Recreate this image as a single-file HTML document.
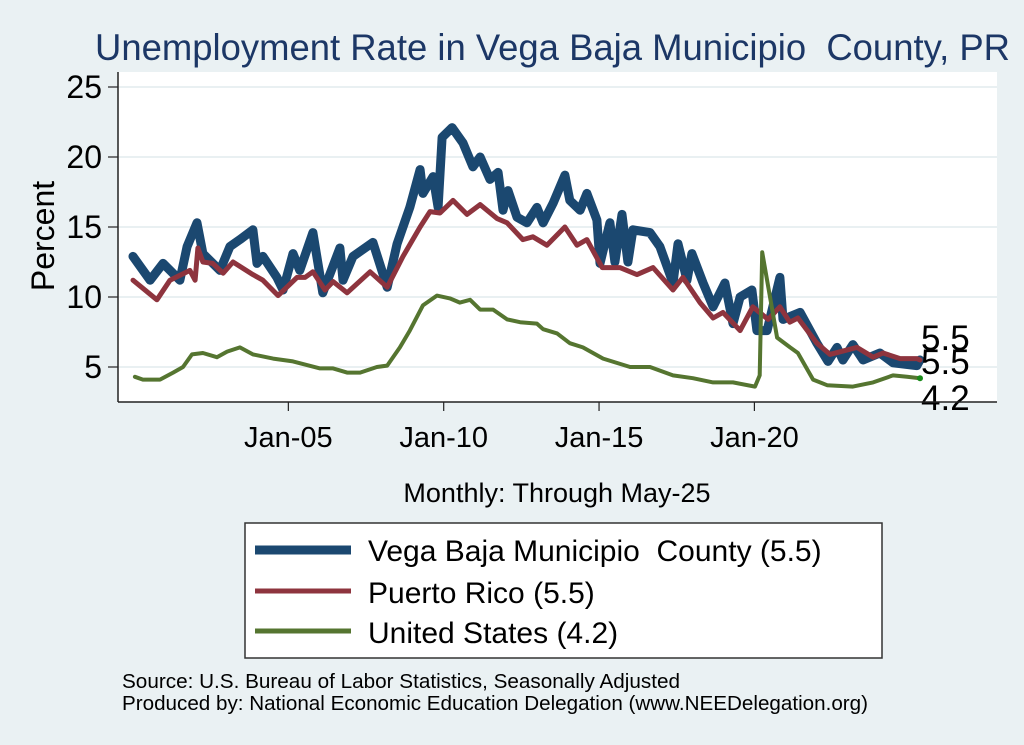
<!DOCTYPE html>
<html><head><meta charset="utf-8"><style>
body{margin:0;background:#eaf1f3;}
svg{display:block;font-family:"Liberation Sans",sans-serif;}
</style></head><body>
<svg id="chart" width="1024" height="745">
<rect width="1024" height="745" fill="#eaf1f3"/>
<text x="95" y="60" font-size="37" textLength="915" lengthAdjust="spacingAndGlyphs" fill="#1c3766">Unemployment Rate in Vega Baja Municipio&#160; County, PR</text>
<rect x="118" y="72" width="879" height="330" fill="#fff"/>
<g id="grid"></g>
<g id="series"></g>
<g id="axes"></g>
<text x="54" y="236" font-size="32" text-anchor="middle" transform="rotate(-90 54 236)">Percent</text>
<text x="557" y="502" font-size="27" text-anchor="middle">Monthly: Through May-25</text>
<g>
<rect x="245" y="523" width="637" height="135" fill="#fff" stroke="#333" stroke-width="1.5"/>
<line x1="255" y1="550" x2="351" y2="550" stroke="#1b4870" stroke-width="9"/>
<text x="368" y="561" font-size="30">Vega Baja Municipio&#160; County (5.5)</text>
<line x1="255" y1="591" x2="351" y2="591" stroke="#8e343e" stroke-width="5"/>
<text x="368" y="603" font-size="30">Puerto Rico (5.5)</text>
<line x1="255" y1="631" x2="351" y2="631" stroke="#557530" stroke-width="5"/>
<text x="368" y="643" font-size="30">United States (4.2)</text>
</g>
<text x="122" y="688" font-size="20.5" textLength="558" lengthAdjust="spacingAndGlyphs">Source: U.S. Bureau of Labor Statistics, Seasonally Adjusted</text>
<text x="122" y="710" font-size="20.5" textLength="746" lengthAdjust="spacingAndGlyphs">Produced by: National Economic Education Delegation (www.NEEDelegation.org)</text>
</svg>
<script>
// years since Jan 2000
const countyT=[0,0.55,0.97,1.51,1.74,2.06,2.25,2.8,3.12,3.44,3.86,3.99,4.18,4.63,4.83,5.15,5.37,5.79,6.11,6.66,6.76,7.08,7.72,8.18,8.5,8.91,9.24,9.33,9.66,9.82,9.95,10.27,10.62,10.94,11.17,11.49,11.75,11.91,12.07,12.36,12.68,13,13.2,13.52,13.9,14.06,14.39,14.61,14.93,15.03,15.35,15.51,15.74,15.93,16.09,16.64,16.96,17.38,17.54,17.83,17.99,18.35,18.67,19.05,19.31,19.54,19.92,20.08,20.41,20.82,20.92,21.47,22.01,22.37,22.66,22.85,23.17,23.5,24.04,24.46,25.23,25.33];
const countyV=[12.9,11.2,12.4,11.2,13.6,15.3,13.1,11.9,13.6,14.1,14.8,12.4,12.9,11.4,10.5,13.1,11.9,14.6,10.3,13.5,11.2,12.9,13.9,10.7,13.8,16.4,19.1,17.4,18.6,16.4,21.4,22.1,21,19.3,20,18.4,18.9,16.2,17.6,15.7,15.3,16.4,15.3,16.7,18.7,16.9,16.2,17.4,15.5,12.4,15.3,12.5,15.9,12.5,14.8,14.6,13.6,11,13.8,11.2,13.1,11,9.3,11,8.1,10,10.5,7.6,7.6,11.4,8.4,8.9,6.7,5.4,6.4,5.5,6.6,5.5,6,5.3,5.1,5.5];
const prT=[0,0.77,1.19,1.83,2,2.09,2.25,2.57,2.9,3.22,3.86,4.18,4.67,5.28,5.54,5.79,6.18,6.44,6.89,7.63,8.18,8.69,9.24,9.56,9.88,10.3,10.75,11.17,11.72,12.04,12.55,12.87,13.32,13.9,14.29,14.61,15.1,15.67,16.22,16.74,17.38,17.7,18.25,18.67,18.99,19.54,19.95,20.44,20.82,21.14,21.4,22.01,22.43,23.3,23.82,24.14,24.69,25.23,25.33];
const prV=[11.2,9.8,11.2,11.9,11.2,13.5,12.5,12.4,11.7,12.5,11.6,11.2,10.1,11.4,11.4,11.8,10.5,11.1,10.3,11.8,10.7,12.9,15,16.1,16,16.9,15.9,16.6,15.6,15.3,14.1,14.3,13.7,15,13.7,14.1,12.1,12.1,11.6,12.1,10.5,11.4,9.6,8.5,8.9,7.6,9.3,8.4,9.3,8.2,8.5,6.7,5.9,6.4,5.7,6,5.6,5.6,5.5];
const usT=[0.06,0.32,0.87,1.29,1.61,1.9,2.25,2.7,3.03,3.44,3.86,4.51,5.15,6.02,6.44,6.89,7.31,7.85,8.18,8.59,8.91,9.33,9.78,10.2,10.52,10.85,11.17,11.59,12.04,12.46,13,13.2,13.65,14.06,14.48,15.13,16,16.64,17.38,18.02,18.67,19.31,20.02,20.17,20.25,20.73,21.15,21.4,21.89,22.34,23.17,23.82,24.46,24.91,25.33];
const usV=[4.3,4.1,4.1,4.6,5,5.9,6,5.7,6.1,6.4,5.9,5.6,5.4,4.9,4.9,4.6,4.6,5,5.1,6.4,7.6,9.4,10.1,9.9,9.6,9.8,9.1,9.1,8.4,8.2,8.1,7.7,7.4,6.7,6.4,5.6,5,5,4.4,4.2,3.9,3.9,3.6,4.4,13.2,7.1,6.4,6,4.1,3.7,3.6,3.9,4.4,4.3,4.2];
const yTicks=[5,10,15,20,25];
const xTicks=[5,10,15,20];
const xTickLabels=["Jan-05","Jan-10","Jan-15","Jan-20"];
const endLabels=["5.5","5.5","4.2"];

const NS="http://www.w3.org/2000/svg";
const xs=t=>133+t*31.07;
const ys=v=>437-v*14;
function mk(tag,attrs,parent){const e=document.createElementNS(NS,tag);for(const k in attrs)e.setAttribute(k,attrs[k]);parent.appendChild(e);return e;}
const grid=document.getElementById('grid'),axes=document.getElementById('axes'),ser=document.getElementById('series');
yTicks.forEach(v=>{
  const g=mk('line',{x1:118,x2:997,y1:ys(v),y2:ys(v),stroke:'#e9f0f2','stroke-width':2},grid);
  
  
  const tk=mk('line',{x1:108,x2:118,y1:ys(v),y2:ys(v),stroke:'#222','stroke-width':1.2},axes);
  
  
  const tx=mk('text',{x:102,y:ys(v)+11,'font-size':32,'text-anchor':'end'},axes);
  tx.textContent=v;
  
  
});
const yl=mk('line',{x1:118,x2:118,y1:72,y2:402,stroke:'#222','stroke-width':1.5},axes);


const xl=mk('line',{x1:118,x2:997,y1:402,y2:402,stroke:'#222','stroke-width':1.5},axes);


xTicks.forEach((t,i)=>{
  const tk=mk('line',{x1:xs(t),x2:xs(t),y1:402,y2:411,stroke:'#222','stroke-width':1.2},axes);
  
  
  const tx=mk('text',{x:xs(t),y:447,'font-size':29,'text-anchor':'middle'},axes);
  tx.textContent=xTickLabels[i];
  
  
});
function line(T,V,color,w,name){
  const p=mk('polyline',{points:T.map((t,i)=>xs(t).toFixed(1)+','+ys(V[i]).toFixed(1)).join(' '),fill:'none',stroke:color,'stroke-width':w,'stroke-linejoin':'round','stroke-linecap':'round'},ser);
  
  
}
line(countyT,countyV,'#1b4870',9,'county-line');
line(prT,prV,'#8e343e',5,'puerto-rico-line');
line(usT,usV,'#557530',4,'us-line');
const dot=mk('circle',{cx:xs(usT[usT.length-1]),cy:ys(usV[usV.length-1]),r:3,fill:'#1a8a1a'},ser);


const ly=[ys(countyV[countyV.length-1])-10,ys(prV[prV.length-1])+14,ys(usV[usV.length-1])+32];
endLabels.forEach((s,i)=>{
  const tx=mk('text',{x:921,y:ly[i],'font-size':35},ser);
  tx.textContent=s;
  
  
});
</script>
</body></html>
